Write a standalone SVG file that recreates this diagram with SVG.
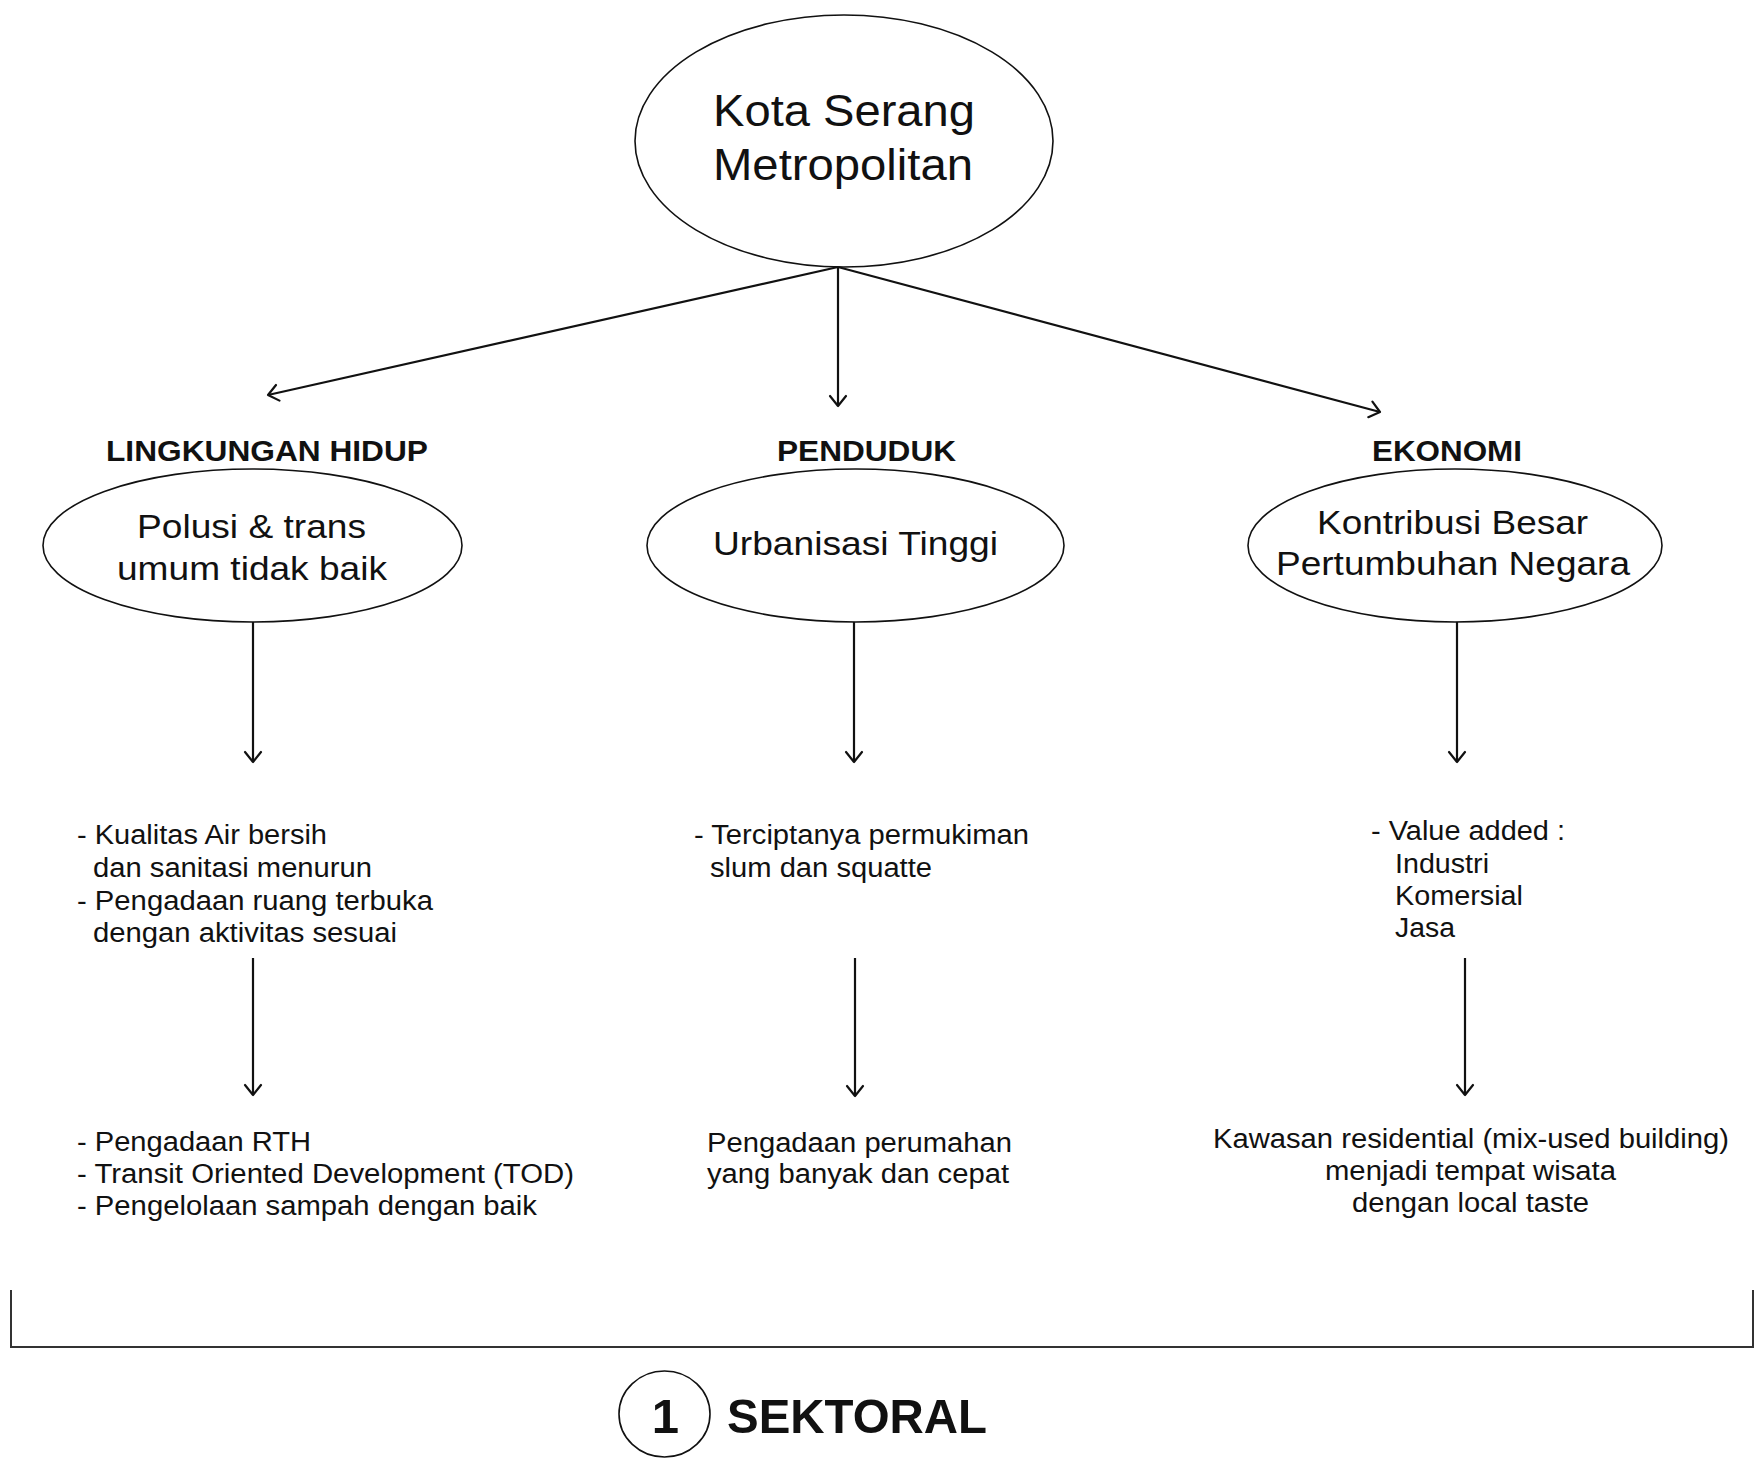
<svg xmlns="http://www.w3.org/2000/svg" width="1755" height="1460" viewBox="0 0 1755 1460">
<style>
  .bg { fill: #ffffff; }
  .node { fill: none; stroke: #111; stroke-width: 1.6; }
  .conn { fill: none; stroke: #111; stroke-width: 2.2; }
  .t { font-family: "Liberation Sans", Arial, sans-serif; fill: #111; }
  .big { font-size: 44px; }
  .mid { font-size: 34px; }
  .sm { font-size: 27px; }
  .head { font-size: 29px; font-weight: bold; }
  .foot { font-size: 49px; font-weight: bold; }
  .c { text-anchor: middle; }
</style>
<defs>
  <marker id="arr" markerUnits="userSpaceOnUse" viewBox="-12 -10 14 20" refX="0" refY="0" markerWidth="14" markerHeight="20" orient="auto" overflow="visible">
    <path d="M-10,-8 L0,0 L-10,8" fill="none" stroke="#111" stroke-width="2.2" stroke-linecap="round" stroke-linejoin="round"/>
  </marker>
</defs>
<rect class="bg" x="0" y="0" width="1755" height="1460"/>

<g id="connectors">
  <line class="conn" x1="838" y1="267" x2="268" y2="395" marker-end="url(#arr)"/>
  <line class="conn" x1="838" y1="267" x2="838" y2="406" marker-end="url(#arr)"/>
  <line class="conn" x1="838" y1="267" x2="1380" y2="412" marker-end="url(#arr)"/>
  <line class="conn" x1="253" y1="622" x2="253" y2="762" marker-end="url(#arr)"/>
  <line class="conn" x1="854" y1="622" x2="854" y2="762" marker-end="url(#arr)"/>
  <line class="conn" x1="1457" y1="622" x2="1457" y2="762" marker-end="url(#arr)"/>
  <line class="conn" x1="253" y1="958" x2="253" y2="1095" marker-end="url(#arr)"/>
  <line class="conn" x1="855" y1="958" x2="855" y2="1096" marker-end="url(#arr)"/>
  <line class="conn" x1="1465" y1="958" x2="1465" y2="1095" marker-end="url(#arr)"/>
</g>

<g id="node-root">
  <ellipse class="node" cx="844" cy="141" rx="209" ry="126"/>
  <text class="t big c" x="844" y="126" textLength="262" lengthAdjust="spacingAndGlyphs">Kota Serang</text>
  <text class="t big c" x="843" y="180" textLength="260" lengthAdjust="spacingAndGlyphs">Metropolitan</text>
</g>

<g id="node-lingkungan">
  <text class="t head c" x="267" y="461" textLength="322" lengthAdjust="spacingAndGlyphs">LINGKUNGAN HIDUP</text>
  <ellipse class="node" cx="252.5" cy="545.5" rx="209.5" ry="76.5"/>
  <text class="t mid c" x="251.5" y="538" textLength="229" lengthAdjust="spacingAndGlyphs">Polusi &amp; trans</text>
  <text class="t mid c" x="252" y="580" textLength="270" lengthAdjust="spacingAndGlyphs">umum tidak baik</text>
</g>

<g id="node-penduduk">
  <text class="t head c" x="866.5" y="461" textLength="179" lengthAdjust="spacingAndGlyphs">PENDUDUK</text>
  <ellipse class="node" cx="855.5" cy="545.5" rx="208.5" ry="76.5"/>
  <text class="t mid c" x="855.5" y="555" textLength="285" lengthAdjust="spacingAndGlyphs">Urbanisasi Tinggi</text>
</g>

<g id="node-ekonomi">
  <text class="t head c" x="1447" y="461" textLength="150" lengthAdjust="spacingAndGlyphs">EKONOMI</text>
  <ellipse class="node" cx="1455" cy="545.5" rx="207" ry="76.5"/>
  <text class="t mid c" x="1452.5" y="534" textLength="271" lengthAdjust="spacingAndGlyphs">Kontribusi Besar</text>
  <text class="t mid c" x="1453" y="575" textLength="354" lengthAdjust="spacingAndGlyphs">Pertumbuhan Negara</text>
</g>

<g id="node-lingkungan-dampak">
  <text class="t sm" x="77" y="844" textLength="250" lengthAdjust="spacingAndGlyphs">- Kualitas Air bersih</text>
  <text class="t sm" x="93" y="877" textLength="279" lengthAdjust="spacingAndGlyphs">dan sanitasi menurun</text>
  <text class="t sm" x="77" y="910" textLength="356" lengthAdjust="spacingAndGlyphs">- Pengadaan ruang terbuka</text>
  <text class="t sm" x="93" y="942" textLength="304" lengthAdjust="spacingAndGlyphs">dengan aktivitas sesuai</text>
</g>

<g id="node-penduduk-dampak">
  <text class="t sm" x="694" y="844" textLength="335" lengthAdjust="spacingAndGlyphs">- Terciptanya permukiman</text>
  <text class="t sm" x="710" y="877" textLength="222" lengthAdjust="spacingAndGlyphs">slum dan squatte</text>
</g>

<g id="node-ekonomi-dampak">
  <text class="t sm" x="1371" y="840" textLength="194" lengthAdjust="spacingAndGlyphs">- Value added :</text>
  <text class="t sm" x="1395" y="873" textLength="94" lengthAdjust="spacingAndGlyphs">Industri</text>
  <text class="t sm" x="1395" y="905" textLength="128" lengthAdjust="spacingAndGlyphs">Komersial</text>
  <text class="t sm" x="1395" y="937" textLength="60" lengthAdjust="spacingAndGlyphs">Jasa</text>
</g>

<g id="node-lingkungan-solusi">
  <text class="t sm" x="77" y="1151" textLength="234" lengthAdjust="spacingAndGlyphs">- Pengadaan RTH</text>
  <text class="t sm" x="77" y="1183" textLength="497" lengthAdjust="spacingAndGlyphs">- Transit Oriented Development (TOD)</text>
  <text class="t sm" x="77" y="1215" textLength="460" lengthAdjust="spacingAndGlyphs">- Pengelolaan sampah dengan baik</text>
</g>

<g id="node-penduduk-solusi">
  <text class="t sm" x="707" y="1152" textLength="305" lengthAdjust="spacingAndGlyphs">Pengadaan perumahan</text>
  <text class="t sm" x="707" y="1183" textLength="302" lengthAdjust="spacingAndGlyphs">yang banyak dan cepat</text>
</g>

<g id="node-ekonomi-solusi">
  <text class="t sm c" x="1471" y="1148" textLength="516" lengthAdjust="spacingAndGlyphs">Kawasan residential (mix-used building)</text>
  <text class="t sm c" x="1470.5" y="1180" textLength="291" lengthAdjust="spacingAndGlyphs">menjadi tempat wisata</text>
  <text class="t sm c" x="1470.5" y="1212" textLength="237" lengthAdjust="spacingAndGlyphs">dengan local taste</text>
</g>

<g id="bracket">
  <path d="M11,1290 L11,1347 L1753,1347 L1753,1290" fill="none" stroke="#333" stroke-width="2"/>
</g>

<g id="node-sektoral">
  <ellipse class="node" cx="664.5" cy="1414" rx="45.5" ry="43"/>
  <text class="t foot c" x="665.5" y="1433">1</text>
  <text class="t foot" x="727" y="1433" textLength="260" lengthAdjust="spacingAndGlyphs">SEKTORAL</text>
</g>
</svg>
